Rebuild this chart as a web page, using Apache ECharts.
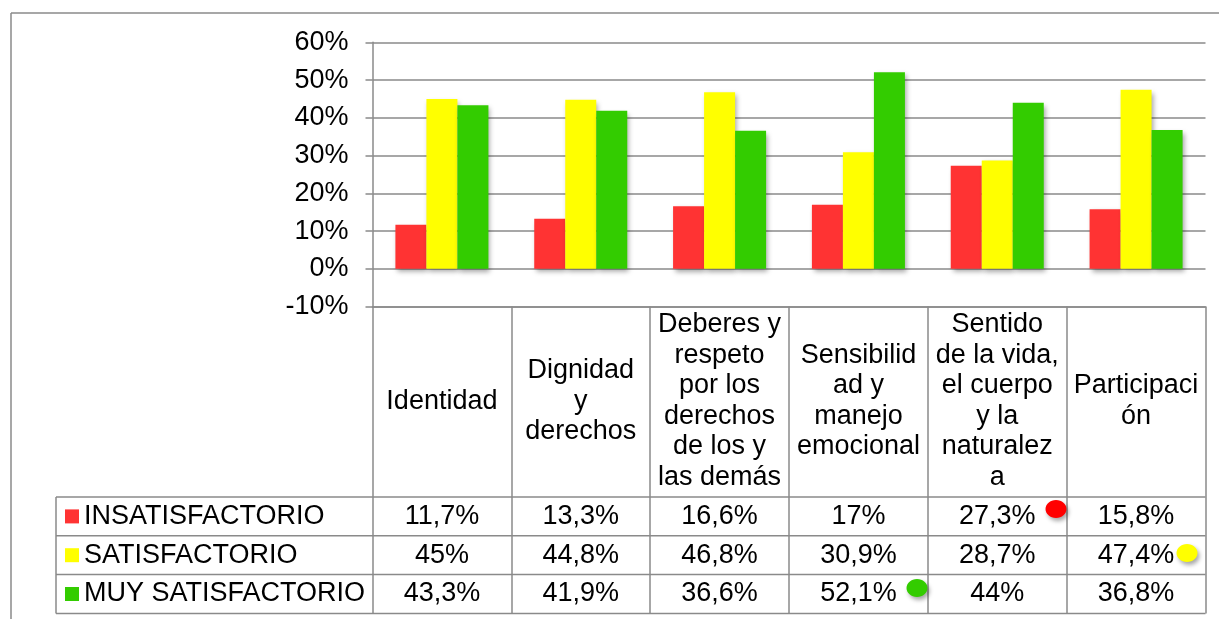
<!DOCTYPE html>
<html>
<head>
<meta charset="utf-8">
<script src="https://cdn.jsdelivr.net/npm/echarts@6/dist/echarts.min.js"></script>
<style>
  html, body { margin: 0; padding: 0; background: #fff; }
  #chart { width: 1219px; height: 619px; }
</style>
</head>
<body>
<div id="chart"></div>
<script>
// categories (wrapped as in the original data table)
const categories = [
  'Identidad',
  'Dignidad\ny\nderechos',
  'Deberes y\nrespeto\npor los\nderechos\nde los y\nlas demás',
  'Sensibilid\nad y\nmanejo\nemocional',
  'Sentido\nde la vida,\nel cuerpo\ny la\nnaturalez\na',
  'Participaci\nón'
]
const seriesNames = ['INSATISFACTORIO', 'SATISFACTORIO', 'MUY SATISFACTORIO']
const insatisfactorio = [11.7, 13.3, 16.6, 17, 27.3, 15.8]
const satisfactorio = [45, 44.8, 46.8, 30.9, 28.7, 47.4]
const muySatisfactorio = [43.3, 41.9, 36.6, 52.1, 44, 36.8]
const yTicks = [-10, 0, 10, 20, 30, 40, 50, 60]

const colors = ['#FF3333', '#FFFF00', '#33CC00']
const lineColor = '#8a8a8a'
const font = 'Liberation Sans, Arial, sans-serif'
const fs = 27

const tableTop = 497
const rowH = 38.8
const tableLeft = 56

const chart = echarts.init(document.getElementById('chart'))

const barStyle = (c) => ({
  color: c,
  shadowBlur: 5,
  shadowOffsetX: 2,
  shadowOffsetY: 3,
  shadowColor: 'rgba(0,0,0,0.35)'
})

const option = {
  animation: false,
  textStyle: { fontFamily: font },
  legend: {
    orient: 'vertical',
    left: 65,
    top: tableTop,
    padding: 0,
    itemGap: 0,
    itemWidth: 14,
    itemHeight: 14,
    icon: 'rect',
    data: seriesNames,
    textStyle: { fontSize: fs, color: '#000', lineHeight: rowH, fontFamily: font }
  },
  grid: {
    left: 372.5,
    right: 13.5,
    top: 42.3,
    bottom: 312.4
  },
  xAxis: {
    type: 'category',
    data: categories,
    axisLine: { onZero: false, lineStyle: { color: lineColor, width: 1.5 } },
    axisTick: {
      show: true,
      length: 307,
      lineStyle: { color: lineColor, width: 1.5 }
    },
    axisLabel: {
      interval: 0,
      fontSize: fs,
      lineHeight: 30.5,
      color: '#000',
      fontFamily: font,
      align: 'center',
      verticalAlign: 'middle',
      margin: 94.5
    }
  },
  yAxis: {
    type: 'value',
    min: yTicks[0],
    max: yTicks[yTicks.length - 1],
    interval: 10,
    axisLine: { show: true, lineStyle: { color: lineColor, width: 1.5 } },
    axisTick: { show: true, length: 7, lineStyle: { color: lineColor, width: 1.5 } },
    splitLine: { lineStyle: { color: lineColor, width: 1.5 } },
    axisLabel: {
      formatter: '{value}%',
      fontSize: fs,
      color: '#000',
      fontFamily: font,
      margin: 24
    }
  },
  series: [
    { name: seriesNames[0], type: 'bar', data: insatisfactorio, itemStyle: barStyle(colors[0]), barGap: '0%', barCategoryGap: '33%' },
    { name: seriesNames[1], type: 'bar', data: satisfactorio, itemStyle: barStyle(colors[1]), barGap: '0%', barCategoryGap: '33%' },
    { name: seriesNames[2], type: 'bar', data: muySatisfactorio, itemStyle: barStyle(colors[2]), barGap: '0%', barCategoryGap: '33%' }
  ]
}

chart.setOption(option)

// data table, frame and marker dots
const fmt = (v) => String(v).replace('.', ',') + '%'
const rows = [insatisfactorio, satisfactorio, muySatisfactorio]
const graphic = []
const line = (x1, y1, x2, y2) => ({
  type: 'line',
  shape: { x1, y1, x2, y2 },
  style: { stroke: lineColor, lineWidth: 1.5 },
  silent: true
})

const catW = chart.convertToPixel({ xAxisIndex: 0 }, 1) - chart.convertToPixel({ xAxisIndex: 0 }, 0)
const rightX = chart.convertToPixel({ xAxisIndex: 0 }, categories.length - 1) + catW / 2

for (let r = 0; r <= 3; r++) {
  graphic.push(line(tableLeft, tableTop + r * rowH, rightX, tableTop + r * rowH))
}
graphic.push(line(tableLeft, tableTop, tableLeft, tableTop + 3 * rowH))

rows.forEach((vals, r) => {
  vals.forEach((v, i) => {
    const cx = chart.convertToPixel({ xAxisIndex: 0 }, i)
    graphic.push({
      type: 'text',
      x: cx,
      y: tableTop + rowH * (r + 0.5),
      silent: true,
      style: {
        text: fmt(v),
        fontSize: fs,
        fontFamily: font,
        fill: '#000',
        align: 'center',
        verticalAlign: 'middle'
      }
    })
  })
})

// outer frame
graphic.push(line(11, 13, 1219, 13))
graphic.push(line(11, 13, 11, 619))

// decorative dots
const dot = (cx, cy, fill) => ({
  type: 'ellipse',
  shape: { cx, cy, rx: 10.5, ry: 9 },
  style: {
    fill,
    shadowBlur: 4,
    shadowOffsetX: 2,
    shadowOffsetY: 3,
    shadowColor: 'rgba(0,0,0,0.35)'
  },
  z: 100,
  silent: true
})
graphic.push(dot(1056, 509, '#FF0000'))
graphic.push(dot(1187, 553, '#FFFF00'))
graphic.push(dot(917, 588, '#33CC00'))

chart.setOption({ graphic })

window.addEventListener('resize', () => {
  chart.resize()
})
</script>
</body>
</html>
